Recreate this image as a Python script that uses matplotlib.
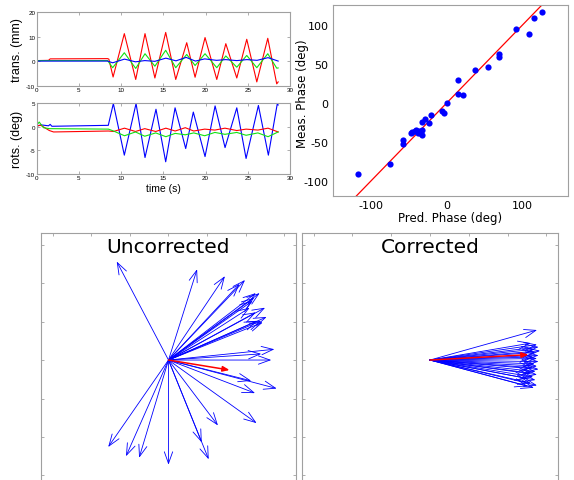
import numpy as np
import matplotlib
matplotlib.use('Agg')
import matplotlib.pyplot as plt

plt.rcParams['axes.unicode_minus'] = False

# ---- time series (key points) ----
trans_red_t = [0, 1.4, 1.6, 8.4, 8.55, 9.05, 10.38, 11.73, 12.83, 14.0, 15.28, 16.47, 17.77, 18.76,
               19.94, 21.33, 22.4, 23.7, 24.88, 26.07, 27.37, 28.43, 28.6]
trans_red_v = [0.2, 0.3, 0.9, 1.0, 0.8, -6.5, 11.2, -7.5, 11.2, -6.9, 11.7, -7.5, 7.5, -6.6,
               9.6, -7.5, 7.1, -6.9, 8.9, -8.5, 9.3, -9.3, -8.5]
trans_green_t = [0, 8.4, 9.0, 10.38, 11.73, 12.83, 14.0, 15.28, 16.47, 17.77, 18.76, 19.94, 21.33,
                 22.4, 23.7, 24.88, 26.07, 27.37, 28.43, 28.6]
trans_green_v = [0.2, 0.2, -2.7, 3.4, -3.0, 3.0, -2.1, 4.4, -2.7, 2.7, -1.8, 3.0, -2.7,
                 2.1, -2.5, 2.3, -2.7, 3.0, -2.9, -2.8]
trans_blue_t = [0, 8.4, 9.0, 10.4, 11.7, 12.8, 14.0, 15.3, 16.5, 17.7, 18.8, 19.9, 21.3, 22.4,
                23.7, 24.9, 26.1, 27.4, 28.6]
trans_blue_v = [0.0, 0.0, -0.7, 0.8, -0.3, 0.2, -0.1, 1.2, 0.1, 1.5, 0.0, 0.9, 0.3, 0.6,
                0.2, 0.6, 0.3, 1.4, 0.0]

rots_blue_t = [0, 0.5, 1.4, 1.6, 1.8, 8.48, 9.08, 10.38, 11.77, 12.83, 14.13, 15.28, 16.39, 17.65,
               18.55, 19.94, 21.13, 22.31, 23.7, 24.8, 26.26, 27.44, 28.5, 28.6]
rots_blue_v = [0.1, 0.4, 0.2, 0.5, 0.1, 0.3, 4.9, -6.0, 4.9, -6.5, 3.7, -7.4, 4.0, -4.6,
               3.1, -6.3, 4.4, -4.4, 4.0, -6.7, 4.5, -6.0, 4.9, 4.6]
rots_red_t = [0, 0.5, 1.5, 2.0, 8.5, 9.1, 10.4, 11.7, 12.8, 14.1, 15.3, 16.4, 17.6, 18.6, 19.9,
              21.1, 22.3, 23.7, 24.8, 26.2, 27.4, 28.6]
rots_red_v = [0.2, 0.3, -0.8, -1.1, -0.9, -1.0, -0.3, -1.0, -0.4, -1.0, -0.3, -0.9, -0.2, -0.9, -0.5,
              -0.7, -0.3, -0.8, -0.5, -0.7, -0.3, -1.1]
rots_green_t = [0, 0.3, 0.8, 1.5, 8.5, 9.1, 10.4, 11.7, 12.8, 14.1, 15.3, 16.4, 17.6, 18.6, 19.9,
                21.1, 22.3, 23.7, 24.8, 26.2, 27.4, 28.6]
rots_green_v = [0.3, 1.0, -0.2, -0.4, -0.5, -0.9, -1.9, -1.1, -2.0, -1.3, -2.1, -1.4, -1.7, -1.3, -1.9,
                -1.2, -1.6, -1.2, -1.8, -1.3, -2.1, -1.1]

# ---- phase scatter ----
pred_phase = [-117, -74, -57, -57, -47, -45, -42, -40, -38, -36, -35, -33, -33, -32, -29, -23, -21,
              -6, -4, 0, 15, 15, 21, 37, 54, 69, 69, 91, 108, 115, 126]
meas_phase = [-91, -78, -47, -53, -38, -37, -36, -35, -39, -36, -38, -35, -41, -24, -21, -26, -15,
              -10, -13, 0, 29, 12, 10, 42, 46, 62, 59, 94, 88, 108, 116]

# ---- phasor arrows ----
unc_u = [-0.67, 0.37, 0.73, 0.92, 0.99, 1.18, 1.13, 1.11, 1.09, 1.05, 1.25, 1.13, 1.27, 1.15, 1.22,
         1.20, 1.37, 1.33, 1.20, 1.07, 1.40, 1.12, 1.14, 0.64, 0.52, 0.43, 0.00, -0.38, -0.55, -0.78]
unc_v = [1.28, 1.18, 1.09, 0.99, 1.04, 0.87, 0.87, 0.81, 0.77, 0.68, 0.68, 0.62, 0.56, 0.51, 0.49,
         0.51, 0.14, 0.00, 0.08, -0.27, -0.37, -0.43, -0.82, -0.85, -1.29, -1.07, -1.36, -1.27, -1.25, -1.13]
unc_mean = (0.79, -0.13)

cor_u = [1.38, 1.30, 1.38, 1.40, 1.35, 1.42, 1.36, 1.40, 1.33, 1.38, 1.40, 1.35, 1.38, 1.32, 1.40,
         1.36, 1.30, 1.38, 1.33, 1.26, 1.36, 1.30, 1.38, 1.26, 1.34]
cor_v = [0.39, 0.22, 0.20, 0.17, 0.14, 0.12, 0.10, 0.06, 0.04, 0.02, -0.02, -0.05, -0.08, -0.10, -0.12,
         -0.15, -0.17, -0.19, -0.22, -0.24, -0.26, -0.30, -0.33, -0.34, -0.36]
cor_mean = (1.27, 0.07)

RED = '#ff0000'
GREEN = '#11e011'
BLUE = '#0000ff'
FRAME = '#a0a0a0'


def frame(ax):
    for s in ax.spines.values():
        s.set_color(FRAME)
        s.set_linewidth(0.8)
    ax.tick_params(direction='in', top=True, right=True, color=FRAME, length=2.5, width=0.6)


def time_panel(ax, series, ylim, yticks):
    for t, v, c in series:
        ax.plot(t, v, color=c, lw=0.8)
    ax.set_xlim(0, 30)
    ax.set_ylim(*ylim)
    ax.set_xticks(range(0, 31, 5))
    ax.set_yticks(yticks)
    frame(ax)
    ax.tick_params(labelsize=4.5, pad=1)
    for lab in ax.get_xticklabels() + ax.get_yticklabels():
        lab.set_fontfamily('Liberation Sans')


def phasor_panel(ax, u, v, mean, title):
    for du, dv in zip(u, v):
        ax.annotate('', xy=(du, dv), xytext=(0, 0),
                    arrowprops=dict(arrowstyle='->,head_length=0.7,head_width=0.25',
                                    color=BLUE, lw=0.6, shrinkA=0, shrinkB=0, mutation_scale=12))
    ax.annotate('', xy=mean, xytext=(0, 0),
                arrowprops=dict(arrowstyle='-|>,head_length=0.5,head_width=0.2',
                                color=RED, lw=1.1, shrinkA=0, shrinkB=0, mutation_scale=8))
    ax.set_xlim(-1.65, 1.65)
    ax.set_ylim(-1.65, 1.65)
    ax.set_xticks(np.arange(-1.5, 1.6, 0.5))
    ax.set_yticks(np.arange(-1.5, 1.6, 0.5))
    frame(ax)
    ax.tick_params(labelleft=False, labelbottom=False, length=2.5)
    ax.text(0.5, 0.985, title, transform=ax.transAxes, ha='center', va='top',
            fontsize=14.5, fontfamily='DejaVu Sans')


def main():
    fig = plt.figure(figsize=(5.74, 4.81), dpi=100)

    ax1 = fig.add_axes([0.0639, 0.820, 0.4413, 0.1528])
    time_panel(ax1, [(trans_red_t, trans_red_v, RED), (trans_green_t, trans_green_v, GREEN),
                     (trans_blue_t, trans_blue_v, BLUE)], (-10, 20), [-10, 0, 10, 20])
    ax1.set_ylabel('trans. (mm)', fontsize=9, fontfamily='Liberation Sans', labelpad=2)

    ax2 = fig.add_axes([0.0639, 0.636, 0.4413, 0.1476])
    time_panel(ax2, [(rots_blue_t, rots_blue_v, BLUE), (rots_red_t, rots_red_v, RED),
                     (rots_green_t, rots_green_v, GREEN)], (-10, 5), [-10, -5, 0, 5])
    ax2.set_ylabel('rots. (deg)', fontsize=9, fontfamily='Liberation Sans', labelpad=2)
    ax2.set_xlabel('time (s)', fontsize=7.5, fontfamily='Liberation Sans', labelpad=2)

    ax3 = fig.add_axes([0.5796, 0.5911, 0.4105, 0.3965])
    ax3.plot([-150, 160], [-150, 160], color=RED, lw=0.9)
    ax3.scatter(pred_phase, meas_phase, s=20, color=BLUE, zorder=3, linewidths=0)
    ax3.set_xlim(-150, 160)
    ax3.set_ylim(-118.5, 125.3)
    ax3.set_xticks([-100, 0, 100])
    ax3.set_yticks([-100, -50, 0, 50, 100])
    for s in ax3.spines.values():
        s.set_color(FRAME)
        s.set_linewidth(0.8)
    ax3.tick_params(length=0, labelsize=8, pad=3)
    ax3.set_xlabel('Pred. Phase (deg)', fontsize=8.5, labelpad=1)
    ax3.set_ylabel('Meas. Phase (deg)', fontsize=8.5)
    ax3.yaxis.set_label_coords(-0.1, 0.54)

    ax4 = fig.add_axes([0.0714, -0.0146, 0.4443, 0.528])
    phasor_panel(ax4, unc_u, unc_v, unc_mean, 'Uncorrected')

    ax5 = fig.add_axes([0.5261, -0.0146, 0.446, 0.528])
    phasor_panel(ax5, cor_u, cor_v, cor_mean, 'Corrected')

    fig.savefig('out.png', dpi=100)


if __name__ == '__main__':
    main()
